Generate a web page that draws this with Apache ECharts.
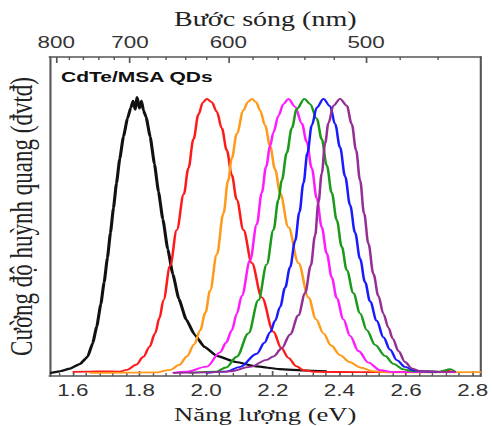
<!DOCTYPE html>
<html><head><meta charset="utf-8">
<script src="https://cdn.jsdelivr.net/npm/echarts@6/dist/echarts.min.js"></script>
<style>
html,body{margin:0;padding:0;background:#fff;overflow:hidden}
#wrap{width:492px;height:426px;overflow:hidden}
#c{width:351px;height:426px;transform:scaleX(1.4017);transform-origin:0 0}
</style>
</head><body><div id="wrap"><div id="c"></div></div>
<script>
// Tick values
const energyTicks = [1.6, 1.8, 2.0, 2.2, 2.4, 2.6, 2.8];
const energyMinorTicks = [1.56, 1.64, 1.68, 1.72, 1.76, 1.84, 1.88, 1.92, 1.96, 2.04, 2.08, 2.12, 2.16,
  2.24, 2.28, 2.32, 2.36, 2.44, 2.48, 2.52, 2.56, 2.64, 2.68, 2.72, 2.76];
const wavelengthTicks = [800, 700, 600, 500];
const wavelengthMinorTicks = [780, 760, 740, 720, 680, 660, 640, 620, 580, 560, 540, 520, 480, 460];

// Spectra: [energy (eV), normalized PL intensity]
const spectrumBlack = [[1.532,0.000],[1.560,0.006],[1.592,0.016],[1.622,0.033],[1.645,0.060],[1.660,0.110],[1.672,0.170],
  [1.684,0.250],[1.694,0.330],[1.704,0.420],[1.713,0.510],[1.722,0.600],[1.731,0.690],[1.741,0.780],[1.752,0.860],
  [1.764,0.925],[1.774,0.965],[1.781,0.990],[1.787,0.958],[1.793,1.003],[1.800,0.962],[1.806,0.990],[1.812,0.955],
  [1.820,0.930],[1.832,0.860],[1.845,0.760],[1.857,0.660],[1.870,0.560],[1.885,0.450],[1.900,0.360],[1.918,0.270],
  [1.940,0.195],[1.965,0.140],[1.995,0.095],[2.032,0.062],[2.090,0.040],[2.150,0.024],[2.220,0.014],[2.300,0.009],[2.362,0.006]];
const spectrumRed = [[1.600,0.004],[1.680,0.006],[1.740,0.005],[1.762,0.011],[1.790,0.030],[1.812,0.059],[1.830,0.095],
  [1.847,0.144],[1.860,0.200],[1.872,0.265],[1.892,0.390],[1.912,0.520],[1.933,0.650],[1.947,0.745],[1.962,0.850],
  [1.977,0.940],[1.990,0.983],[2.002,0.997],[2.017,0.985],[2.032,0.950],[2.047,0.890],[2.062,0.810],[2.077,0.720],
  [2.092,0.630],[2.112,0.520],[2.137,0.400],[2.167,0.275],[2.202,0.150],[2.225,0.092],[2.247,0.055],[2.270,0.025],
  [2.292,0.010],[2.330,0.004],[2.462,0.003],[2.643,0.005],[2.700,0.004],[2.733,0.010]];
const spectrumOrange = [[1.650,0.000],[1.850,0.002],[1.892,0.011],[1.920,0.030],[1.942,0.060],[1.965,0.105],[1.982,0.155],
  [1.998,0.220],[2.012,0.300],[2.032,0.430],[2.052,0.580],[2.066,0.700],[2.077,0.780],[2.092,0.870],[2.112,0.955],
  [2.125,0.985],[2.137,0.997],[2.150,0.985],[2.162,0.955],[2.177,0.900],[2.192,0.825],[2.207,0.740],[2.222,0.655],
  [2.247,0.530],[2.277,0.400],[2.307,0.275],[2.330,0.195],[2.352,0.144],[2.375,0.100],[2.402,0.065],[2.430,0.040],
  [2.462,0.020],[2.500,0.007],[2.540,0.002],[2.825,0.003]];
const spectrumMagenta = [[1.900,0.000],[1.942,0.005],[2.002,0.023],[2.042,0.075],[2.060,0.110],[2.077,0.155],[2.092,0.215],
  [2.107,0.280],[2.132,0.410],[2.152,0.540],[2.167,0.655],[2.180,0.750],[2.192,0.825],[2.202,0.875],[2.217,0.935],
  [2.232,0.978],[2.247,0.997],[2.267,0.968],[2.287,0.908],[2.302,0.840],[2.317,0.745],[2.332,0.635],[2.347,0.530],
  [2.362,0.435],[2.377,0.348],[2.392,0.272],[2.412,0.195],[2.432,0.135],[2.457,0.080],[2.487,0.038],[2.522,0.010],
  [2.560,0.003],[2.750,0.003]];
const spectrumGreen = [[1.950,0.000],[2.030,0.005],[2.060,0.020],[2.092,0.059],[2.127,0.144],[2.157,0.265],[2.182,0.395],
  [2.202,0.520],[2.217,0.630],[2.227,0.700],[2.242,0.800],[2.257,0.890],[2.272,0.960],[2.295,0.997],[2.312,0.978],
  [2.332,0.925],[2.347,0.850],[2.362,0.755],[2.377,0.655],[2.392,0.556],[2.407,0.459],[2.422,0.374],[2.442,0.290],
  [2.462,0.217],[2.482,0.156],[2.507,0.102],[2.537,0.062],[2.562,0.033],[2.592,0.013],[2.622,0.006],[2.700,0.005],
  [2.733,0.014],[2.745,0.006]];
const spectrumBlue = [[2.000,0.000],[2.060,0.005],[2.102,0.022],[2.152,0.070],[2.175,0.110],[2.192,0.148],[2.207,0.190],
  [2.222,0.240],[2.237,0.310],[2.252,0.385],[2.267,0.480],[2.280,0.585],[2.292,0.690],[2.304,0.800],[2.317,0.900],
  [2.332,0.965],[2.352,0.997],[2.372,0.970],[2.387,0.905],[2.402,0.820],[2.417,0.715],[2.432,0.610],[2.447,0.510],
  [2.462,0.415],[2.477,0.330],[2.492,0.260],[2.512,0.190],[2.532,0.130],[2.552,0.085],[2.572,0.047],[2.597,0.022],
  [2.622,0.010],[2.652,0.006],[2.700,0.004]];
const spectrumPurple = [[1.900,0.000],[2.000,0.002],[2.072,0.006],[2.132,0.022],[2.182,0.048],[2.202,0.060],[2.227,0.090],
  [2.252,0.140],[2.277,0.210],[2.297,0.290],[2.314,0.390],[2.327,0.500],[2.337,0.620],[2.347,0.726],[2.357,0.835],
  [2.367,0.908],[2.382,0.972],[2.402,0.997],[2.422,0.972],[2.437,0.905],[2.450,0.810],[2.462,0.700],[2.474,0.580],
  [2.487,0.470],[2.502,0.360],[2.517,0.280],[2.532,0.215],[2.547,0.165],[2.560,0.125],[2.577,0.080],[2.597,0.040],
  [2.617,0.017],[2.642,0.007],[2.700,0.004],[2.750,0.005]];

const E_MIN = 1.53, E_MAX = 2.825, Y_MIN = -0.011, Y_MAX = 1.149;
const frame = { color: '#555', width: 1.5 };
const labelFont = { fontFamily: 'Liberation Sans', fontSize: 16, color: '#333' };
const serif = "'Liberation Serif', 'DejaVu Serif', serif";

function xAx(extra) {
  return Object.assign({
    type: 'value', min: E_MIN, max: E_MAX, gridIndex: 0,
    axisLine: { show: false, onZero: false, lineStyle: frame },
    axisTick: { show: false },
    axisLabel: { show: false },
    splitLine: { show: false }, minorTick: { show: false }
  }, extra);
}

const series = [
  ['black', spectrumBlack, '#111111', 2.2, 0.15],
  ['red', spectrumRed, '#ff1a1a', 1.8, 0.35],
  ['orange', spectrumOrange, '#ff9a1a', 1.8, 0.35],
  ['magenta', spectrumMagenta, '#ff1aff', 1.8, 0.35],
  ['green', spectrumGreen, '#1a991a', 1.8, 0.35],
  ['blue', spectrumBlue, '#1a1aff', 1.8, 0.35],
  ['purple', spectrumPurple, '#952f95', 1.8, 0.35]
].map(([n, d, c, w, s]) => ({
  name: n, type: 'line', data: d, xAxisIndex: 0, yAxisIndex: 0,
  showSymbol: false, symbol: 'none', smooth: s, smoothMonotone: 'x',
  lineStyle: { color: c, width: w }, itemStyle: { color: c }, silent: true, z: 3
}));

const chart = echarts.init(document.getElementById('c'), null, { renderer: 'svg' });
chart.setOption({
  animation: false,
  backgroundColor: '#fff',
  title: {
    text: 'CdTe/MSA QDs', left: 43.5, top: 69, padding: 0,
    textStyle: { fontFamily: 'Liberation Sans', fontWeight: 'bold', fontSize: 15, color: '#111' }
  },
  grid: { left: 35.3, right: 7.8, top: 57, bottom: 50, containLabel: false, outerBoundsMode: 'none' },
  xAxis: [
    xAx({
      position: 'bottom',
      axisLine: { show: true, onZero: false, lineStyle: frame },
      axisTick: { show: true, inside: true, length: 5, customValues: energyTicks, lineStyle: { color: '#555', width: 1.2 } },
      axisLabel: Object.assign({ show: true, customValues: energyTicks, formatter: v => v.toFixed(1), margin: 6 }, labelFont),
      name: 'Năng lượng (eV)', nameLocation: 'middle', nameGap: 29,
      nameTextStyle: { fontFamily: serif, fontSize: 19, color: '#222', lineHeight: 19 }
    }),
    xAx({
      position: 'top',
      axisLine: { show: true, onZero: false, lineStyle: frame },
      axisTick: { show: true, inside: true, length: 6, customValues: wavelengthTicks.map(nm => 1240 / nm), lineStyle: { color: '#555', width: 1.2 } },
      axisLabel: Object.assign({ show: true, customValues: wavelengthTicks.map(nm => 1240 / nm), formatter: v => String(Math.round(1240 / v)), margin: 7 }, labelFont),
      name: 'Bước sóng (nm)', nameLocation: 'middle', nameGap: 27,
      nameTextStyle: { fontFamily: serif, fontSize: 20, color: '#222' }
    }),
    xAx({
      position: 'bottom',
      axisTick: { show: true, inside: true, length: 3, customValues: energyMinorTicks, lineStyle: { color: '#555', width: 1 } }
    }),
    xAx({
      position: 'top',
      axisTick: { show: true, inside: true, length: 3, customValues: wavelengthMinorTicks.map(nm => 1240 / nm), lineStyle: { color: '#555', width: 1 } }
    })
  ],
  yAxis: [
    {
      type: 'value', position: 'left', min: Y_MIN, max: Y_MAX,
      axisLine: { show: true, onZero: false, lineStyle: frame },
      axisTick: { show: false }, axisLabel: { show: false }, splitLine: { show: false },
      name: 'Cường độ huỳnh quang (đvtđ)', nameLocation: 'middle', nameGap: 9,
      nameTextStyle: { fontFamily: serif, fontSize: 23, color: '#222' }
    },
    {
      type: 'value', position: 'right', min: Y_MIN, max: Y_MAX,
      axisLine: { show: true, onZero: false, lineStyle: frame },
      axisTick: { show: false }, axisLabel: { show: false }, splitLine: { show: false }
    }
  ],
  series: series
});
</script>
</body></html>
